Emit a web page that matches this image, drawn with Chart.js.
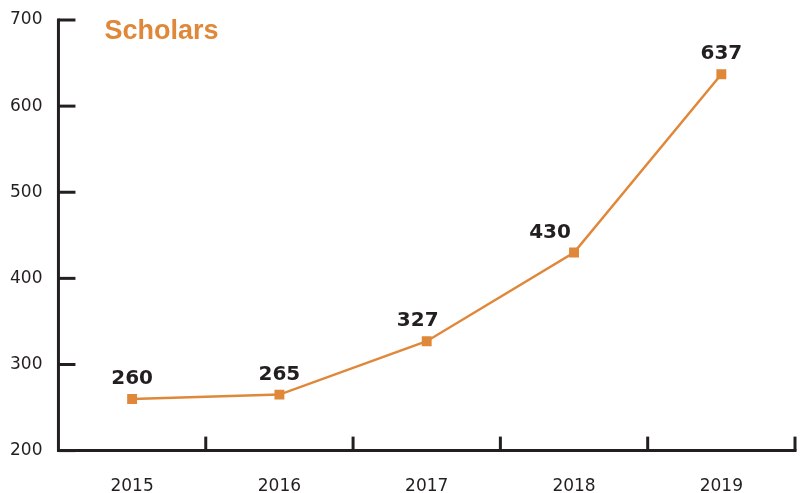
<!DOCTYPE html>
<html>
<head>
<meta charset="utf-8">
<script src="https://cdn.jsdelivr.net/npm/chart.js@4.4.0/dist/chart.umd.min.js"></script>
<style>
    html, body { margin: 0; padding: 0; background: #fff; }
    #wrap { width: 805px; height: 493px; position: relative; }
</style>
</head>
<body>
<div id="wrap"><canvas id="canvasScholars"></canvas></div>
<script>
const titulo = 'Scholars';
const anios = ['2015', '2016', '2017', '2018', '2019'];
const scholars = [260, 265, 327, 430, 637];
const ticksY = [200, 300, 400, 500, 600, 700];
// small horizontal nudge for a couple of value labels, like the original
const nudgeEtiquetas = [0, 0, -9, -24, 0];

const NARANJA = '#E0883A';
const TINTA = '#231F20';
const FUENTE = '"Liberation Sans", Arial, sans-serif';
const FUENTE_NUM = '"DejaVu Sans", sans-serif';

const ejesPlugin = {
    id: 'ejesPropios',
    afterDatasetsDraw(chart) {
        const { ctx, chartArea, scales } = chart;
        const x = scales.x, y = scales.y;
        ctx.save();
        ctx.strokeStyle = TINTA;
        ctx.lineWidth = 3;
        ctx.lineCap = 'butt';

        // eje Y
        ctx.beginPath();
        ctx.moveTo(chartArea.left, y.getPixelForValue(700) - 1.5);
        ctx.lineTo(chartArea.left, y.getPixelForValue(200) + 1.5);
        ctx.stroke();
        ticksY.forEach(v => {
            const py = y.getPixelForValue(v);
            ctx.beginPath();
            ctx.moveTo(chartArea.left, py);
            ctx.lineTo(chartArea.left + 17, py);
            ctx.stroke();
        });

        // eje X
        const paso = x.getPixelForValue(1) - x.getPixelForValue(0);
        const base = y.getPixelForValue(200);
        const fin = x.getPixelForValue(anios.length - 1) + paso / 2;
        ctx.beginPath();
        ctx.moveTo(chartArea.left, base);
        ctx.lineTo(fin + 1.5, base);
        ctx.stroke();
        for (let i = 0; i < anios.length; i++) {
            const px = x.getPixelForValue(i) + paso / 2;
            ctx.beginPath();
            ctx.moveTo(px, base);
            ctx.lineTo(px, base - 14);
            ctx.stroke();
        }

        // etiquetas de valor
        const meta = chart.getDatasetMeta(0);
        ctx.fillStyle = TINTA;
        ctx.font = 'bold 20px ' + FUENTE_NUM;
        ctx.textAlign = 'center';
        ctx.textBaseline = 'middle';
        meta.data.forEach((pt, i) => {
            ctx.fillText(String(scholars[i]), pt.x + nudgeEtiquetas[i], pt.y - 20);
        });

        // titulo
        ctx.fillStyle = NARANJA;
        ctx.font = 'bold 27px ' + FUENTE;
        ctx.textAlign = 'left';
        ctx.textBaseline = 'middle';
        ctx.fillText(titulo, chartArea.left + 46, 32);
        ctx.restore();
    }
};

new Chart(document.getElementById('canvasScholars'), {
    type: 'line',
    data: {
        labels: anios,
        datasets: [{
            label: titulo,
            data: scholars,
            borderColor: NARANJA,
            backgroundColor: NARANJA,
            borderWidth: 2.5,
            pointStyle: 'rect',
            pointRadius: 7,
            pointBorderWidth: 0,
            tension: 0
        }]
    },
    options: {
        responsive: true,
        maintainAspectRatio: false,
        animation: false,
        layout: { padding: { top: 20, right: 10, left: -6, bottom: -30 } },
        plugins: { legend: { display: false }, tooltip: { enabled: false } },
        scales: {
            x: {
                offset: true,
                grid: { display: false, drawTicks: false },
                border: { display: false },
                ticks: { color: TINTA, font: { family: FUENTE_NUM, size: 17 }, padding: 26 }
            },
            y: {
                min: 200,
                max: 700,
                afterBuildTicks: axis => { axis.ticks = ticksY.map(v => ({ value: v })); },
                afterFit: axis => { axis.paddingTop = 0; },
                grid: { display: false, drawTicks: false },
                border: { display: false },
                ticks: { color: TINTA, font: { family: FUENTE_NUM, size: 17 }, padding: 16 }
            }
        }
    },
    plugins: [ejesPlugin]
});
</script>
</body>
</html>
